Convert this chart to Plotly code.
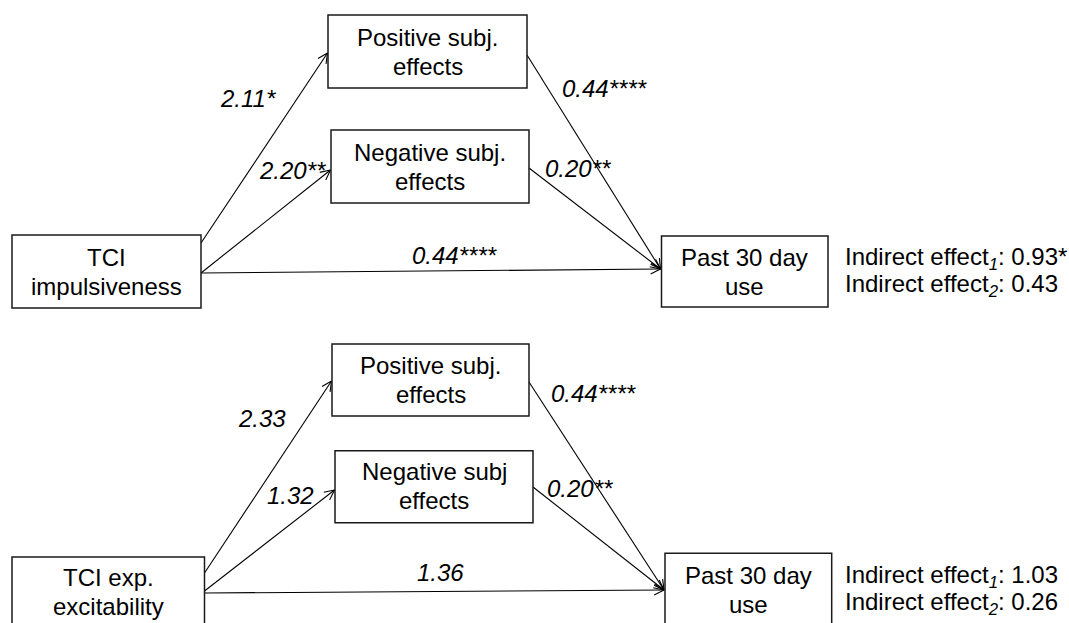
import math
import plotly.graph_objects as go

# ---- data (text content) ----
predictors = ["TCI<br>impulsiveness", "TCI exp.<br>excitability"]
pos_mediators = ["Positive subj.<br>effects", "Positive subj.<br>effects"]
neg_mediators = ["Negative subj.<br>effects", "Negative subj<br>effects"]
outcomes = ["Past 30 day<br>use", "Past 30 day<br>use"]
a1_coef = ["2.11*", "2.33"]
a2_coef = ["2.20**", "1.32"]
c_coef = ["0.44****", "1.36"]
b1_coef = ["0.44****", "0.44****"]
b2_coef = ["0.20**", "0.20**"]
indirect1 = ["0.93*", "1.03"]
indirect2 = ["0.43", "0.26"]

# ---- layout geometry (pixels, y downward) ----
geom = [
    dict(pred=(12, 235, 201, 308), pos=(328, 15, 527, 88), neg=(331, 130, 529, 203),
         out=(661.5, 236, 828, 307),
         a1=((201, 243), (327.5, 53)), a2=((201, 273), (330.5, 170)), c=((201, 273), (660.5, 269)),
         b1=((527, 55), (660.5, 269)), b2=((529, 168), (660.5, 269)),
         la1=(248, 98), la2=(292.7, 170), lc=(454.5, 255), lb1=(604, 88), lb2=(578, 168),
         ind=(843, 258, 285),
         tc=dict(pred=271.5, pos=51.5, neg=166.8, out=272)),
    dict(pred=(12, 557, 204.5, 640), pos=(332, 344, 529, 416), neg=(335, 450.7, 533, 522.7),
         out=(665, 553.3, 831.7, 640),
         a1=((204.5, 573), (331.5, 381)), a2=((204.5, 591), (334.5, 490)), c=((204.5, 593), (664, 590)),
         b1=((529, 382), (664, 590)), b2=((533, 487), (664, 590)),
         la1=(261.7, 418), la2=(290.3, 495), lc=(440.8, 572), lb1=(593.6, 393), lb2=(579.8, 488),
         ind=(843, 576, 603),
         tc=dict(pred=592, pos=379.7, neg=485.8, out=589.5)),
]

FONT = "Liberation Sans, Arial, sans-serif"
FS = 24
HALF_SPACING = 14.5
TEXT_SHIFT = 0  # annotation middle vs visual glyph centre

fig = go.Figure()
shapes = []
annotations = []
lx, ly = [], []


def add_arrow(p0, p1):
    (x0, y0), (x1, y1) = p0, p1
    lx.extend([x0, x1, None])
    ly.extend([y0, y1, None])
    ang = math.atan2(y1 - y0, x1 - x0)
    L = 11
    for d in (math.radians(26), -math.radians(26)):
        a = ang + math.pi + d
        lx.extend([x1 + L * math.cos(a), x1, None])
        ly.extend([y1 + L * math.sin(a), y1, None])


def text_ann(x, y, txt, xanchor="center"):
    return dict(x=x, y=y, text=txt, showarrow=False, xanchor=xanchor, yanchor="middle",
                font=dict(family=FONT, size=FS, color="black"))


for i, g in enumerate(geom):
    texts = dict(pred=predictors[i], pos=pos_mediators[i], neg=neg_mediators[i], out=outcomes[i])
    for key in ("pred", "pos", "neg", "out"):
        x0, y0, x1, y1 = g[key]
        shapes.append(dict(type="rect", xref="x", yref="y", x0=x0, y0=y0, x1=x1, y1=y1,
                           line=dict(color="#1a1a1a", width=1.5), fillcolor="rgba(0,0,0,0)"))
        lines = texts[key].split("<br>")
        yc = g["tc"][key]
        for k, ln in enumerate(lines):
            yy = yc + (k - (len(lines) - 1) / 2) * 2 * HALF_SPACING + TEXT_SHIFT
            annotations.append(text_ann((x0 + x1) / 2, yy, ln))
    for key in ("a1", "a2", "c", "b1", "b2"):
        add_arrow(*g[key])
    for key, txt in (("la1", a1_coef[i]), ("la2", a2_coef[i]), ("lc", c_coef[i]),
                     ("lb1", b1_coef[i]), ("lb2", b2_coef[i])):
        x, y = g[key]
        annotations.append(text_ann(x, y + TEXT_SHIFT, "<i>" + txt + "</i>"))
    ix, iy1, iy2 = g["ind"]
    annotations.append(text_ann(ix, iy1 + TEXT_SHIFT,
                                "Indirect effect<sub><i>1</i></sub>: " + indirect1[i], "left"))
    annotations.append(text_ann(ix, iy2 + TEXT_SHIFT,
                                "Indirect effect<sub><i>2</i></sub>: " + indirect2[i], "left"))

fig.add_trace(go.Scatter(x=lx, y=ly, mode="lines", line=dict(color="black", width=1.1),
                         hoverinfo="skip", showlegend=False))

fig.update_layout(
    width=1069, height=623, margin=dict(l=0, r=0, t=0, b=0),
    paper_bgcolor="white", plot_bgcolor="white",
    xaxis=dict(range=[0, 1069], visible=False, fixedrange=True),
    yaxis=dict(range=[623, 0], visible=False, fixedrange=True),
    shapes=shapes, annotations=annotations, showlegend=False,
)
fig.write_html("out.html", config={"displayModeBar": False},
               post_script="document.body.style.margin='0';document.body.style.overflow='hidden';")
